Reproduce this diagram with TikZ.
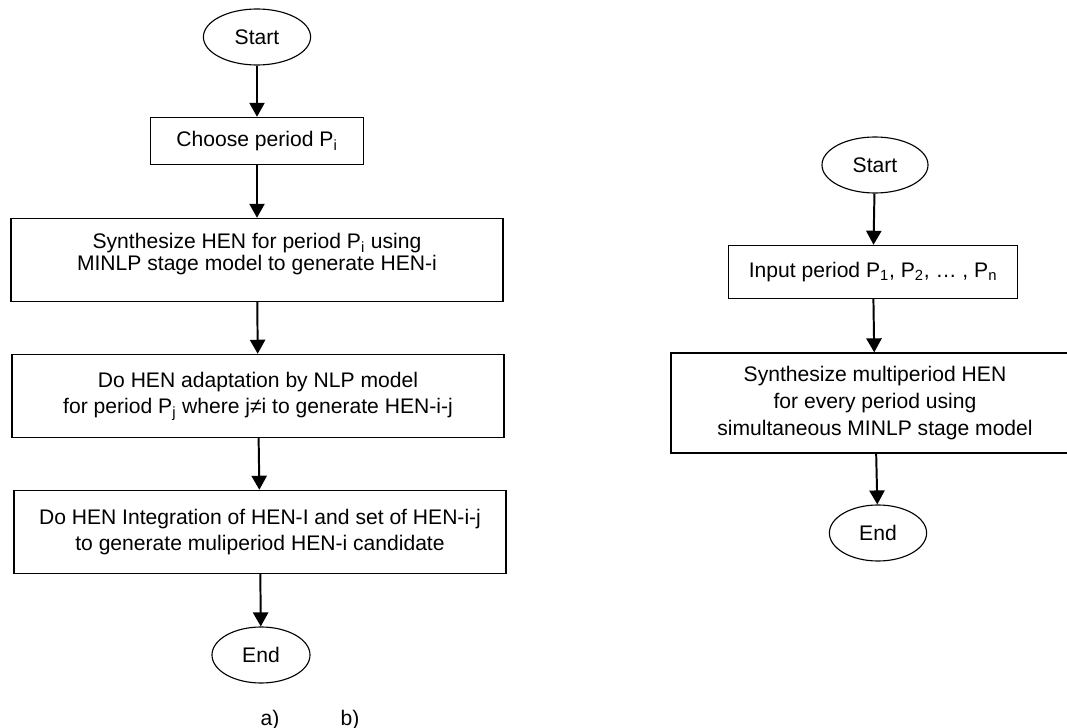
\documentclass[tikz,border=0pt]{standalone}
\usepackage{fontspec}
\setmainfont{Liberation Sans}
\usetikzlibrary{arrows.meta}
\usetikzlibrary{shapes.geometric}
\newcommand\boxwidth{12.3}
\newcommand\boxheight{2.08}
\tikzstyle{terminal} = [ellipse, minimum height=1.4cm, inner sep=0pt, draw=black, line width=0.8pt]
\tikzstyle{process} = [rectangle, minimum width=\boxwidth cm, minimum height=\boxheight cm, text centered, align=center, draw=black, line width=0.9pt]
\tikzstyle{arrow} = [line width=1.4pt,-{Triangle[length=3.5mm, width=3.8mm]}]
\tikzstyle{tight} = [font={\fontsize{15}{15.5}\selectfont}, text depth=12pt]

\begin{document}
\begin{tikzpicture}[x=0.025cm, y=-0.025cm, font=\fontsize{15}{18.8}\selectfont]
	\useasboundingbox (0,0) rectangle (1067,728);
	\clip (0,0) rectangle (1067,728);

	% a) one period at a time
	\node[terminal, minimum width=2.68cm] (startA) at (257,37) {Start};
	\node[process, minimum width=5.33cm, minimum height=1.18cm] (choose) at (257,141) {Choose period P\textsubscript{i}};
	\node[process, tight] (synth) at (257,260) {Synthesize HEN for period P\textsubscript{i} using\\MINLP stage model to generate HEN-i};
	\node[process] (adapt) at (258,396) {Do HEN adaptation by NLP model\\for period P\textsubscript{j} where j≠i to generate HEN-i-j};
	\node[process] (integ) at (260,532) {Do HEN Integration of HEN-I and set of HEN-i-j\\to generate muliperiod HEN-i candidate};
	\node[terminal, minimum width=2.45cm] (endA) at (261,655) {End};

	\draw[arrow] (startA) -- (choose);
	\draw[arrow] (choose) -- (synth);
	\draw[arrow] (synth) -- (adapt);
	\draw[arrow] (adapt) -- (integ);
	\draw[arrow] (integ) -- (endA);

	% b) all periods together
	\node[terminal, minimum width=2.65cm] (startB) at (875,165) {Start};
	\node[process, minimum width=7.23cm, minimum height=1.33cm] (input) at (873,272) {Input period P\textsubscript{1}, P\textsubscript{2}, \dots\ , P\textsubscript{n}};
	\node[process, minimum width=10.2cm, minimum height=2.5cm, font=\fontsize{15}{19.5}\selectfont] (multi) at (875,403) {Synthesize multiperiod HEN\\for every period using\\simultaneous MINLP stage model};
	\node[terminal, minimum width=2.43cm] (endB) at (878,533) {End};

	\draw[arrow] (startB) -- (input);
	\draw[arrow] (input) -- (multi);
	\draw[arrow] (multi) -- (endB);

	\node (labA) at (270,720) {a)};
	\node (labB) at (350,720) {b)};
\end{tikzpicture}
\end{document}
